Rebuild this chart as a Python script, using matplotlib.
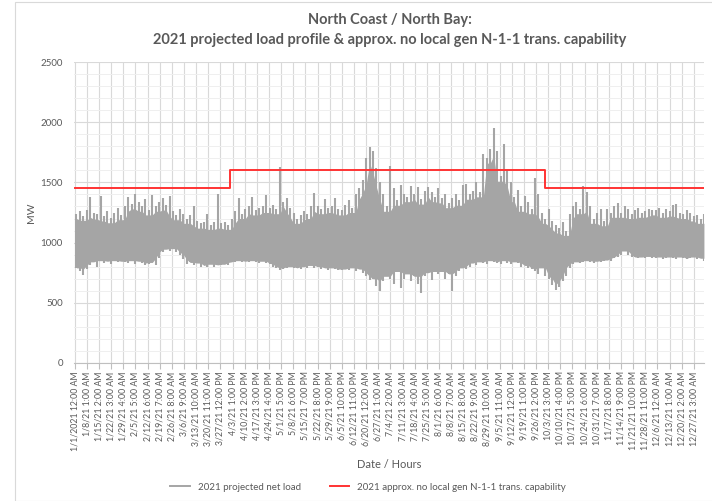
import numpy as np
import matplotlib.pyplot as plt
from matplotlib.patches import Rectangle

plt.rcParams['font.family'] = ['Lato', 'DejaVu Sans']

# 2021 projected net load, read off the chart as 2-day blocks (MW)
# upper / lower envelope of the hourly trace in each 48 h block
load_hi = [
    1240, 1260, 1225, 1270, 1380, 1250, 1235, 1385, 1220, 1260, 1205, 1250, 1290, 1230,
    1300, 1380, 1320, 1400, 1340, 1300, 1360, 1270, 1395, 1300, 1340, 1370, 1310, 1390,
    1260, 1230, 1280, 1240, 1200, 1230, 1300, 1180, 1160, 1170, 1240, 1150, 1175, 1400,
    1160, 1170, 1150, 1200, 1260, 1370, 1240, 1280, 1300, 1380, 1270, 1290, 1300, 1395,
    1290, 1310, 1280, 1630, 1340, 1370, 1290, 1250, 1200, 1230, 1260, 1240, 1300, 1410,
    1300, 1280, 1360, 1290, 1300, 1370, 1280, 1270, 1310, 1350, 1290, 1400, 1450, 1520,
    1700, 1790, 1760, 1620, 1500, 1400, 1300, 1640, 1450, 1350, 1480, 1400, 1380, 1470,
    1400, 1460, 1360, 1430, 1465, 1420, 1380, 1450, 1370, 1400, 1330, 1370, 1400, 1350,
    1480, 1490, 1400, 1430, 1500, 1420, 1740, 1700, 1780, 1950, 1760, 1550, 1820, 1600,
    1500, 1380, 1440, 1300, 1390, 1340, 1280, 1540, 1400, 1250, 1200, 1280, 1180, 1150,
    1120, 1170, 1100, 1240, 1300, 1340, 1280, 1470, 1420, 1300, 1200, 1250, 1280, 1180,
    1280, 1250, 1300, 1330, 1250, 1300, 1280, 1240, 1270, 1290, 1250, 1260, 1280, 1270,
    1270, 1290, 1250, 1280, 1260, 1310, 1320, 1250, 1240, 1270, 1250, 1220, 1230, 1200, 1240,
]
load_lo = [
    790, 760, 730, 780, 810, 840, 800, 850, 830, 845, 820, 850, 835, 845,
    840, 830, 850, 820, 845, 830, 815, 820, 835, 810, 870, 920, 945, 930,
    950, 920, 900, 860, 820, 835, 810, 830, 800, 810, 795, 820, 800, 810,
    815, 820, 810, 835, 840, 850, 840, 845, 835, 850, 840, 830, 845, 830,
    820, 800, 790, 770, 780, 790, 800, 790, 785, 780, 800, 790, 810, 790,
    800, 780, 790, 770, 790, 780, 770, 775, 780, 770, 790, 760, 780, 750,
    720, 690, 700, 640, 600, 680, 720, 700, 660, 760, 620, 700, 740, 680,
    720, 660, 580, 720, 750, 690, 760, 740, 760, 700, 740, 600, 720, 760,
    790, 780, 800, 830, 810, 840, 830, 820, 850, 840, 830, 820, 850, 830,
    820, 840, 830, 800, 810, 790, 780, 760, 740, 790, 720, 700, 650, 610,
    630, 680, 720, 790, 820, 840, 830, 835, 850, 840, 830, 845, 840, 850,
    855, 850, 870, 880, 900, 930, 900, 880, 880, 870, 880, 870, 885, 870,
    870, 880, 860, 870, 880, 870, 860, 880, 870, 860, 870, 880, 860, 870, 850,
]

# approx. no local gen N-1-1 transmission capability (MW), step changes
cap_start_hour = [0, 2160, 6552, 8760]
cap_mw = [1450, 1600, 1450]

tick_labels = [
    '1/1/2021 12:00 AM', '1/8/21 1:00 AM', '1/15/21 2:00 AM', '1/22/21 3:00 AM',
    '1/29/21 4:00 AM', '2/5/21 5:00 AM', '2/12/21 6:00 AM', '2/19/21 7:00 AM',
    '2/26/21 8:00 AM', '3/6/21 9:00 AM', '3/13/21 10:00 AM', '3/20/21 11:00 AM',
    '3/27/21 12:00 PM', '4/3/21 1:00 PM', '4/10/21 2:00 PM', '4/17/21 3:00 PM',
    '4/24/21 4:00 PM', '5/1/21 5:00 PM', '5/8/21 6:00 PM', '5/15/21 7:00 PM',
    '5/22/21 8:00 PM', '5/29/21 9:00 PM', '6/5/21 10:00 PM', '6/12/21 11:00 PM',
    '6/20/21 12:00 AM', '6/27/21 1:00 AM', '7/4/21 2:00 AM', '7/11/21 3:00 AM',
    '7/18/21 4:00 AM', '7/25/21 5:00 AM', '8/1/21 6:00 AM', '8/8/21 7:00 AM',
    '8/15/21 8:00 AM', '8/22/21 9:00 AM', '8/29/21 10:00 AM', '9/5/21 11:00 AM',
    '9/12/21 12:00 PM', '9/19/21 1:00 PM', '9/26/21 2:00 PM', '10/3/21 3:00 PM',
    '10/10/21 4:00 PM', '10/17/21 5:00 PM', '10/24/21 6:00 PM', '10/31/21 7:00 PM',
    '11/7/21 8:00 PM', '11/14/21 9:00 PM', '11/21/21 10:00 PM', '11/28/21 11:00 PM',
    '12/6/21 12:00 AM', '12/13/21 1:00 AM', '12/20/21 2:00 AM', '12/27/21 3:00 AM',
]

TXT = '#595959'
GRID = '#d9d9d9'
GRAY = '#a5a5a5'
RED = '#ff3333'

lo = np.array(load_lo, dtype=float)
hi = np.array(load_hi, dtype=float)
n = len(lo)
xb = np.minimum(np.arange(n) * 48.0 + 24, 8759)

# solid body of the band: lowest peak / highest trough among neighbouring blocks
hi_pad = np.pad(hi, 1, mode='edge')
lo_pad = np.pad(lo, 1, mode='edge')
core_hi = np.minimum(np.minimum(hi_pad[:-2], hi_pad[1:-1]), hi_pad[2:])
core_lo = np.maximum(np.maximum(lo_pad[:-2], lo_pad[1:-1]), lo_pad[2:])

fig = plt.figure(figsize=(7.12, 5.01), dpi=100)
fig.patches.append(Rectangle((15 / 712, 0.0), 1.0, 1 - 2 / 501, transform=fig.transFigure,
                             fill=False, edgecolor='#d9d9d9', lw=0.8))
ax = fig.add_axes([74 / 712, 1 - 363 / 501, (704 - 74) / 712, (363 - 62) / 501])

ax.fill_between(xb, core_lo, core_hi - 40, color=GRAY, lw=0, zorder=2)
ax.vlines(xb, lo, hi, color=GRAY, lw=1.5, zorder=3)
ax.plot([], [], color=GRAY, lw=1.4, label='2021 projected net load')
ax.step(cap_start_hour, cap_mw + [cap_mw[-1]], where='post', color=RED, lw=1.4,
        zorder=4, label='2021 approx. no local gen N-1-1 trans. capability')

ax.set_xlim(-10, 8760)
ax.set_ylim(0, 2500)
ax.set_xticks(np.arange(len(tick_labels)) * 169)
ax.set_xticklabels(tick_labels, rotation=90, fontsize=6.3, color=TXT)
ax.set_yticks(np.arange(0, 2501, 500))
ax.set_yticks(np.arange(0, 2501, 100), minor=True)
ax.tick_params(axis='y', which='both', length=0, labelsize=7, labelcolor=TXT, pad=8)
ax.tick_params(axis='x', length=4, color='#bfbfbf', pad=2)
ax.grid(True, which='major', color=GRID, lw=0.8, zorder=0)
ax.grid(True, which='minor', axis='y', color='#efefef', lw=0.7, zorder=0)
ax.set_axisbelow(True)
for s in ['top', 'right', 'left']:
    ax.spines[s].set_visible(False)
ax.spines['bottom'].set_color('#bfbfbf')

ax.set_ylabel('MW', fontsize=7.5, color=TXT, labelpad=3)
ax.set_xlabel('Date / Hours', fontsize=8, color=TXT, labelpad=6)
fig.text(0.548, 1 - 20 / 501, 'North Coast / North Bay:', ha='center', va='center',
         fontsize=10.5, fontweight='bold', color=TXT)
fig.text(0.548, 1 - 40 / 501,
         '2021 projected load profile & approx. no local gen N-1-1 trans. capability',
         ha='center', va='center', fontsize=10.5, fontweight='bold', color=TXT)

fig.legend(loc='center', bbox_to_anchor=(0.517, 1 - 487 / 501), ncol=2, frameon=False,
           fontsize=7, labelcolor=TXT, handlelength=2.0, columnspacing=3.0)

fig.savefig('out.png', dpi=100)
